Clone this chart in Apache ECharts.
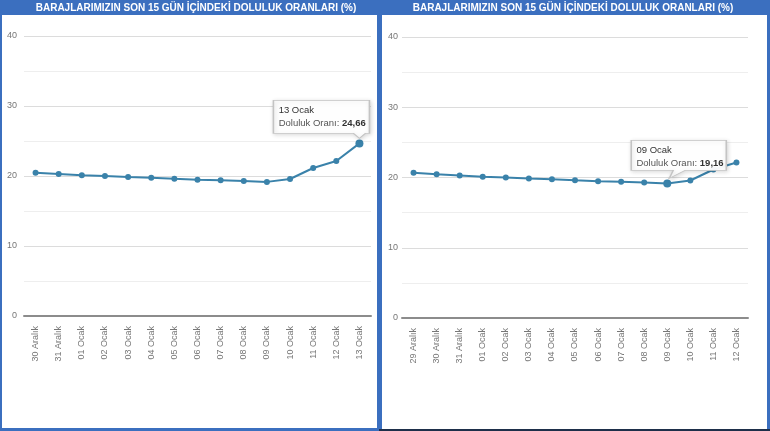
<!DOCTYPE html>
<html>
<head>
<meta charset="utf-8">
<script src="https://cdn.jsdelivr.net/npm/echarts@6/dist/echarts.min.js"></script>
<style>
html,body{margin:0;padding:0;background:#fff;}
#c{width:770px;height:431px;}
</style>
</head>
<body>
<div id="c"></div>
<script>
const titleText = 'BARAJLARIMIZIN SON 15 GÜN İÇİNDEKİ DOLULUK ORANLARI (%)';
const seriesName = 'Doluluk Oranı';
const yTicks = [0, 10, 20, 30, 40];

const leftCategories = ['30 Aralık','31 Aralık','01 Ocak','02 Ocak','03 Ocak','04 Ocak','05 Ocak','06 Ocak','07 Ocak','08 Ocak','09 Ocak','10 Ocak','11 Ocak','12 Ocak','13 Ocak'];
const leftValues = [20.47, 20.29, 20.10, 20.00, 19.86, 19.76, 19.61, 19.47, 19.39, 19.29, 19.16, 19.57, 21.14, 22.14, 24.66];
const leftTipCategory = '13 Ocak';

const rightCategories = ['29 Aralık','30 Aralık','31 Aralık','01 Ocak','02 Ocak','03 Ocak','04 Ocak','05 Ocak','06 Ocak','07 Ocak','08 Ocak','09 Ocak','10 Ocak','11 Ocak','12 Ocak'];
const rightValues = [20.66, 20.47, 20.29, 20.10, 20.00, 19.86, 19.76, 19.61, 19.47, 19.39, 19.29, 19.16, 19.57, 21.14, 22.14];
const rightTipCategory = '09 Ocak';

const BLUE = '#3b6fbf';
const LINE = '#3a82aa';
const FONT = '"Liberation Sans", Arial, sans-serif';

function fmt(v){ return v.toFixed(2).replace('.', ','); }

// callout path: box W x H, arrow base centred at bx, tip at (tx, ty)
function callout(W, H, bx, tx, ty){
  return 'path://M0,0 L' + W + ',0 L' + W + ',' + H + ' L' + (bx + 6) + ',' + H +
         ' L' + tx + ',' + ty + ' L' + (bx - 6) + ',' + H + ' L0,' + H + ' Z';
}

function tipMark(cats, vals, cat, W, H, bx, tx, ty, ox, oy){
  const i = cats.indexOf(cat);
  return {
    silent: true,
    symbol: callout(W, H, bx, tx, ty),
    symbolSize: [W, ty],
    symbolKeepAspect: false,
    symbolOffset: [ox + W / 2, oy + ty / 2],
    itemStyle: {color: 'rgba(255,255,255,0.96)', borderColor: '#c4c4c4', borderWidth: 1,
      shadowColor: 'rgba(0,0,0,0.15)', shadowBlur: 4, shadowOffsetX: 1, shadowOffsetY: 1},
    label: {
      show: true,
      position: [6, 4],
      formatter: '{a|' + cat + '}\n{b|' + seriesName + ': }{c|' + fmt(vals[i]) + '}',
      rich: {
        a: {fontSize: 9.5, color: '#333', lineHeight: 13, fontFamily: FONT},
        b: {fontSize: 9.5, color: '#555', lineHeight: 13, fontFamily: FONT},
        c: {fontSize: 9.5, color: '#333', fontWeight: 'bold', lineHeight: 13, fontFamily: FONT}
      }
    },
    data: [{coord: [cat, vals[i]]}],
    z: 10
  };
}

function yAxis(gi){
  return {
    type: 'value', gridIndex: gi, min: yTicks[0], max: yTicks[yTicks.length - 1],
    interval: yTicks[1] - yTicks[0],
    axisLine: {show: false}, axisTick: {show: false},
    axisLabel: {color: '#777', fontSize: 9, margin: gi === 0 ? 7 : 4, fontFamily: FONT},
    splitLine: {lineStyle: {color: '#dcdcdc', width: 1}},
    minorTick: {show: false, splitNumber: 2},
    minorSplitLine: {show: true, lineStyle: {color: '#eeeeee', width: 1}}
  };
}

function xAxis(gi, cats){
  return {
    type: 'category', gridIndex: gi, data: cats, boundaryGap: true,
    axisLine: {lineStyle: {color: '#8c8c8c', width: 2}},
    axisTick: {show: false},
    axisLabel: {rotate: 90, color: '#777', fontSize: 9, margin: 10, interval: 0, fontFamily: FONT},
    splitLine: {show: false}
  };
}

function series(gi, cats, vals, tipCat, mark){
  const hi = cats.indexOf(tipCat);
  return {
    type: 'line', name: seriesName, xAxisIndex: gi, yAxisIndex: gi, data: vals,
    symbol: 'circle',
    symbolSize: function(v, p){ return p.dataIndex === hi ? 8 : 6; },
    lineStyle: {color: LINE, width: 2},
    itemStyle: {color: LINE},
    animation: false,
    markPoint: mark
  };
}

const chart = echarts.init(document.getElementById('c'), null, {renderer: 'canvas'});
chart.setOption({
  animation: false,
  textStyle: {fontFamily: FONT},
  graphic: [
    {type: 'rect', z: -10, shape: {x: 0, y: 0, width: 380, height: 431}, style: {fill: BLUE}},
    {type: 'rect', z: -9, shape: {x: 2, y: 15, width: 375, height: 413}, style: {fill: '#fff'}},
    {type: 'rect', z: -10, shape: {x: 379, y: 0, width: 391, height: 431}, style: {fill: BLUE}},
    {type: 'rect', z: -10, shape: {x: 379, y: 429, width: 391, height: 2}, style: {fill: '#1e2f4a'}},
    {type: 'rect', z: -9, shape: {x: 382, y: 15, width: 385, height: 414}, style: {fill: '#fff'}},
    {type: 'text', z: -8, x: 196, y: 8, style: {text: titleText, fill: '#fff', font: 'bold 10px ' + FONT, align: 'center', verticalAlign: 'middle', textAlign: 'center', textVerticalAlign: 'middle'}},
    {type: 'text', z: -8, x: 573, y: 8, style: {text: titleText, fill: '#fff', font: 'bold 10px ' + FONT, align: 'center', verticalAlign: 'middle', textAlign: 'center', textVerticalAlign: 'middle'}}
  ],
  grid: [
    {left: 24, top: 36, width: 347, height: 280},
    {left: 402, top: 37, width: 346, height: 281}
  ],
  xAxis: [xAxis(0, leftCategories), xAxis(1, rightCategories)],
  yAxis: [yAxis(0), yAxis(1)],
  series: [
    series(0, leftCategories, leftValues, leftTipCategory,
      tipMark(leftCategories, leftValues, leftTipCategory, 96, 33, 86, 86, 38, -86, -43)),
    series(1, rightCategories, rightValues, rightTipCategory,
      tipMark(rightCategories, rightValues, rightTipCategory, 95, 30, 48, 38, 38, -36, -43))
  ]
});
</script>
</body>
</html>
